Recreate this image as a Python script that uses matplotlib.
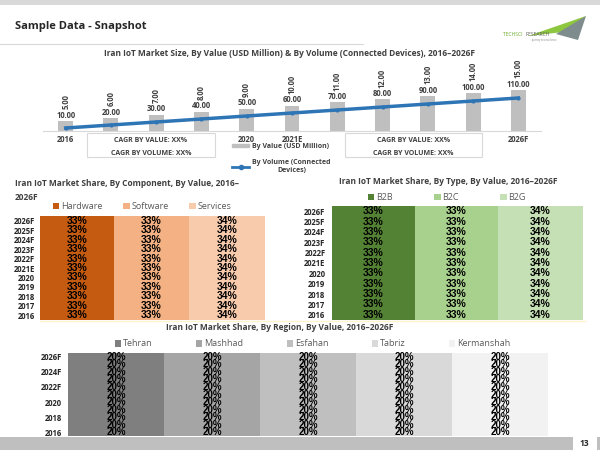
import numpy as np
import matplotlib
matplotlib.use("Agg")
import matplotlib.pyplot as plt
from matplotlib.patches import Rectangle, Polygon, Patch
from matplotlib.lines import Line2D

plt.rcParams['font.family'] = ['Open Sans', 'DejaVu Sans']

# ---- data ----
years = ["2016", "2017", "2018", "2019", "2020", "2021E",
         "2022F", "2023F", "2024F", "2025F", "2026F"]
value_usd = [10, 20, 30, 40, 50, 60, 70, 80, 90, 100, 110]
volume_devices = [5, 6, 7, 8, 9, 10, 11, 12, 13, 14, 15]
size_ticks_shown = ["2016", "2020", "2021E", "2026F"]

component_names = ["Hardware", "Software", "Services"]
hardware = [33, 33, 33, 33, 33, 33, 33, 33, 33, 33, 33]
software = [33, 33, 33, 33, 33, 33, 33, 33, 33, 33, 33]
services = [34, 34, 34, 34, 34, 34, 34, 34, 34, 34, 34]

type_names = ["B2B", "B2C", "B2G"]
b2b = [33, 33, 33, 33, 33, 33, 33, 33, 33, 33, 33]
b2c = [33, 33, 33, 33, 33, 33, 33, 33, 33, 33, 33]
b2g = [34, 34, 34, 34, 34, 34, 34, 34, 34, 34, 34]

region_names = ["Tehran", "Mashhad", "Esfahan", "Tabriz", "Kermanshah"]
tehran = [20, 20, 20, 20, 20, 20, 20, 20, 20, 20, 20]
mashhad = [20, 20, 20, 20, 20, 20, 20, 20, 20, 20, 20]
esfahan = [20, 20, 20, 20, 20, 20, 20, 20, 20, 20, 20]
tabriz = [20, 20, 20, 20, 20, 20, 20, 20, 20, 20, 20]
kermanshah = [20, 20, 20, 20, 20, 20, 20, 20, 20, 20, 20]

W, H = 600, 450
fig = plt.figure(figsize=(6, 4.5), dpi=100)


def fx(x):
    return x / W


def fy(y):
    return 1 - y / H


def box(x0, y0, x1, y1):
    return [x0 / W, 1 - y1 / H, (x1 - x0) / W, (y1 - y0) / H]


DARK = '#404040'

# ---- slide decoration ----
fig.add_artist(Rectangle((0, fy(5)), 1, 5 / H, transform=fig.transFigure,
                         color='#d9d9d9', lw=0))
fig.text(fx(15), fy(27), "Sample Data - Snapshot", fontsize=8,
         fontweight='bold', color='#262626', va='center')
fig.add_artist(Line2D([0, fx(363)], [fy(44), fy(44)], transform=fig.transFigure,
                      color='#d9d9d9', lw=0.8))
# logo
fig.add_artist(Polygon([(fx(528), fy(36)), (fx(586), fy(16)), (fx(572), fy(31))],
                       transform=fig.transFigure, color='#8dc63f', lw=0))
fig.add_artist(Polygon([(fx(556), fy(34)), (fx(586), fy(16)), (fx(578), fy(40))],
                       transform=fig.transFigure, color='#7f8c8d', lw=0))
fig.text(fx(503), fy(34), "TECHSCI", fontsize=3.6, color='#6aaa2a', va='center')
fig.text(fx(526), fy(34), "RESEARCH", fontsize=3.6, color='#606060', va='center')
fig.text(fx(531), fy(40), "journey to excellence", fontsize=2, color='#808080',
         va='center', style='italic')

# bottom band
fig.add_artist(Rectangle((0, 0), fx(573), 13 / H, transform=fig.transFigure,
                         color='#bfbfbf', lw=0))
fig.add_artist(Rectangle((fx(597), 0), fx(3), 13 / H, transform=fig.transFigure,
                         color='#bfbfbf', lw=0))
fig.text(fx(584), fy(443), "13", fontsize=6, fontweight='bold', color='#262626',
         ha='center', va='center')
fig.add_artist(Line2D([fx(40), fx(585)], [fy(321), fy(321)], transform=fig.transFigure,
                      color='#fff2cc', lw=1))

# ---- chart 1: market size ----
fig.text(fx(289), fy(54),
         "Iran IoT Market Size, By Value (USD Million) & By Volume (Connected Devices), 2016\u20132026F",
         fontsize=6, fontweight='bold', color=DARK, ha='center', va='center')

ax = fig.add_axes(box(43, 65, 541, 131))
x = np.arange(len(years))
vmin = -22
ax.bar(x, np.array(value_usd) - vmin, bottom=vmin, width=0.33, color='#bfbfbf')
ax.set_ylim(vmin, 191)
ax.set_xlim(-0.5, 10.5)
for xi, v, vol in zip(x, value_usd, volume_devices):
    ax.annotate(f"{v:.2f}", (xi, v), xytext=(0, 1), textcoords='offset points',
                ha='center', va='bottom', fontsize=5.5, fontweight='bold', color=DARK)
    ax.annotate(f"{vol:.2f}", (xi, v), xytext=(0, 8.5), textcoords='offset points',
                ha='center', va='bottom', rotation=90, fontsize=5.5,
                fontweight='bold', color=DARK)
ax.set_xticks(x, [y if y in size_ticks_shown else "" for y in years],
              fontsize=5.5, fontweight='bold', color=DARK)
ax.tick_params(length=0, pad=3)
ax.set_yticks([])
for s in ['top', 'left', 'right']:
    ax.spines[s].set_visible(False)
ax.spines['bottom'].set_color('#d9d9d9')

ax2 = ax.twinx()
ax2.plot(x, volume_devices, color='#2e75b6', lw=2.5, marker='o', ms=2)
ax2.set_ylim(4, 26)
ax2.set_yticks([])
for s in ax2.spines.values():
    s.set_visible(False)

# CAGR boxes
for (x0, x1) in [(87, 215), (345, 482)]:
    fig.add_artist(Rectangle((fx(x0), fy(157)), (x1 - x0) / W, 24 / H,
                             transform=fig.transFigure, facecolor='white',
                             edgecolor='#d9d9d9', lw=0.8, zorder=5))
    fig.text(fx((x0 + x1) / 2), fy(141), "CAGR BY VALUE: XX%", fontsize=5,
             fontweight='bold', color=DARK, ha='center', va='center', zorder=6)
    fig.text(fx((x0 + x1) / 2), fy(153), "CAGR BY VOLUME: XX%", fontsize=5,
             fontweight='bold', color=DARK, ha='center', va='center', zorder=6)

handles = [Patch(color='#bfbfbf'),
           Line2D([], [], color='#2e75b6', lw=2, marker='o', ms=3)]
leg = fig.legend(handles, ["By Value (USD Million)", "By Volume (Connected\nDevices)"],
                 loc='upper left', bbox_to_anchor=(fx(232), fy(143)), frameon=False,
                 prop=dict(size=5, weight='bold'), labelcolor=DARK,
                 handlelength=2.5, handleheight=0.4, labelspacing=1.3,
                 borderpad=0, borderaxespad=0, handletextpad=0.4)
for t in leg.get_texts():
    t.set_multialignment('center')


# ---- share charts ----
def share_chart(rect, names, series, colors, label_size, tick_step, tick_pad,
                leg_xy, colspace):
    a = fig.add_axes(box(*rect))
    pos = np.arange(len(years))
    left = np.zeros(len(years))
    for name, vals, c in zip(names, series, colors):
        bars = a.barh(pos, vals, left=left, height=1.0, color=c, label=name)
        a.bar_label(bars, labels=[f"{v}%" for v in vals], label_type='center',
                    fontsize=label_size, fontweight='bold', color='black',
                    family='Liberation Sans')
        left += np.array(vals)
    a.set_xlim(0, 100)
    a.set_ylim(-0.5, len(years) - 0.5)
    a.set_xticks([])
    a.set_yticks(pos[::tick_step], years[::tick_step], fontsize=5.5,
                 fontweight='bold', color='#262626')
    a.tick_params(length=0, pad=tick_pad)
    for s in a.spines.values():
        s.set_visible(False)
    a.legend(loc='center left', bbox_to_anchor=(fx(leg_xy[0]), fy(leg_xy[1])),
             bbox_transform=fig.transFigure, ncol=len(names), frameon=False,
             handlelength=0.7, handleheight=0.7, handletextpad=0.2,
             columnspacing=colspace, fontsize=6.5, labelcolor='#595959',
             borderpad=0, borderaxespad=0)
    return a


fig.text(fx(15), fy(183), "Iran IoT Market Share, By Component, By Value, 2016\u2013",
         fontsize=6, fontweight='bold', color=DARK, va='center')
fig.text(fx(15), fy(197), "2026F", fontsize=6, fontweight='bold', color=DARK,
         va='center')
share_chart((40, 216, 265, 320), component_names, [hardware, software, services],
            ['#c55a11', '#f4b183', '#f8cbad'], 7.5, 1, 3.6, (53, 207), 2.3)

fig.text(fx(448), fy(182), "Iran IoT Market Share, By Type, By Value, 2016\u20132026F",
         fontsize=6, fontweight='bold', color=DARK, ha='center', va='center')
share_chart((332, 206, 583, 320), type_names, [b2b, b2c, b2g],
            ['#548235', '#a9d18e', '#c5e0b4'], 7.5, 1, 4.7, (368, 198), 4.6)

fig.text(fx(280), fy(328), "Iran IoT Market Share, By Region, By Value, 2016\u20132026F",
         fontsize=6, fontweight='bold', color=DARK, ha='center', va='center')
share_chart((68, 353, 548, 436), region_names,
            [tehran, mashhad, esfahan, tabriz, kermanshah],
            ['#7f7f7f', '#a5a5a5', '#bfbfbf', '#d9d9d9', '#f2f2f2'], 7, 2, 4.3,
            (115, 344), 4.8)

plt.savefig('out.png', dpi=100)
